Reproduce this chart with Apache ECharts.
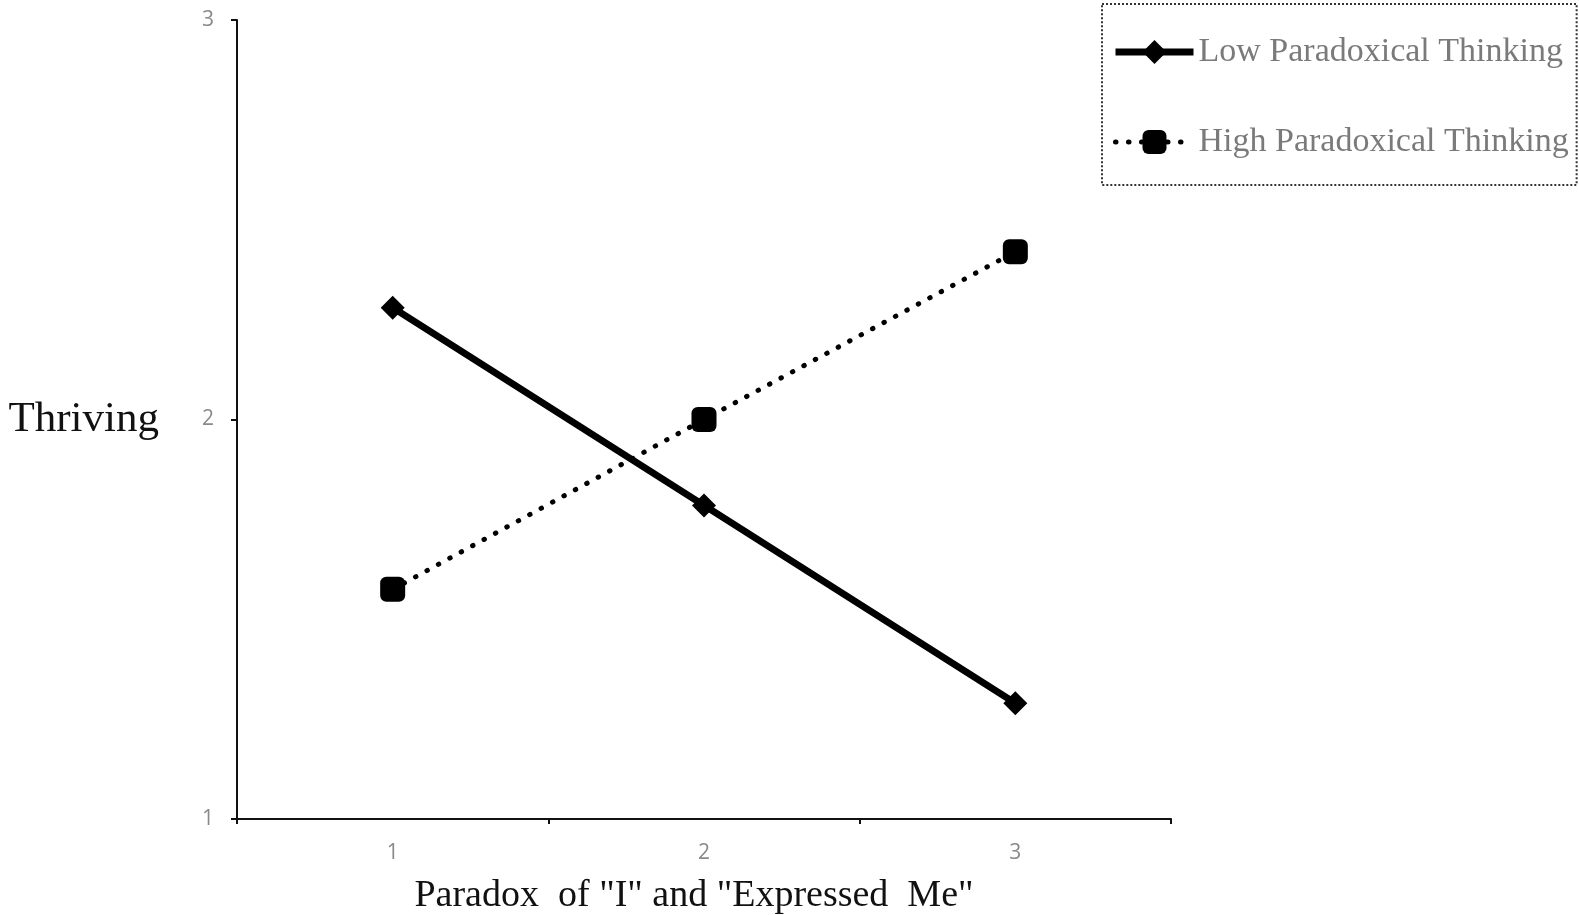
<!DOCTYPE html>
<html>
<head>
<meta charset="utf-8">
<script src="https://cdn.jsdelivr.net/npm/echarts@6/dist/echarts.min.js"></script>
<style>
html,body{margin:0;padding:0;background:#fff;}
#chart{width:1579px;height:915px;}
</style>
</head>
<body>
<div id="chart"></div>
<script>
const categories = ['1', '2', '3'];
const lowParadoxical = [2.28, 1.785, 1.29];
const highParadoxical = [1.575, 2.0, 2.42];
const seriesNames = ['Low Paradoxical Thinking', 'High Paradoxical Thinking'];
const xAxisTitle = 'Paradox  of "I" and "Expressed  Me"';
const yAxisTitle = 'Thriving';

const chart = echarts.init(document.getElementById('chart'), null, {renderer: 'canvas'});
const serif = '"Liberation Serif", "DejaVu Serif", serif';
const dotted = [0.5, 12.5];
chart.setOption({
  animation: false,
  backgroundColor: '#fff',
  grid: {left: 237, right: 408, top: 20, bottom: 96, containLabel: false, outerBoundsMode: 'none'},
  legend: {
    orient: 'vertical',
    left: 1102,
    top: 4,
    padding: [31, 8, 26, 10],
    itemGap: 56,
    itemWidth: 78,
    itemHeight: 30,
    itemTextGap: 2,
    borderColor: '#333',
    borderWidth: 2,
    borderType: 'dotted',
    textStyle: {fontFamily: serif, fontSize: 34, color: '#7a7a7a'},
    data: [
      {name: seriesNames[0], lineStyle: {width: 7, color: '#000'}},
      {name: seriesNames[1], lineStyle: {width: 5, color: '#000', type: dotted, cap: 'round'}}
    ]
  },
  xAxis: {
    type: 'category',
    data: categories,
    boundaryGap: true,
    name: xAxisTitle,
    nameLocation: 'middle',
    nameGap: 58,
    nameTextStyle: {fontFamily: serif, fontSize: 38, color: '#111', padding: [0, 20, 0, 0]},
    axisLine: {lineStyle: {color: '#111', width: 2}},
    axisTick: {show: true, length: 5, inside: false, lineStyle: {color: '#111', width: 2}},
    axisLabel: {margin: 24, fontSize: 21, color: '#8a8a8a', fontFamily: '"Open Sans", sans-serif'},
    splitLine: {show: false}
  },
  yAxis: {
    type: 'value',
    min: 1,
    max: 3,
    interval: 1,
    name: yAxisTitle,
    nameLocation: 'middle',
    nameRotate: 0,
    nameGap: 78,
    nameTextStyle: {fontFamily: serif, fontSize: 43, color: '#111', align: 'right'},
    axisLine: {show: true, lineStyle: {color: '#111', width: 2}},
    axisTick: {show: true, length: 6, lineStyle: {color: '#111', width: 2}},
    axisLabel: {margin: 23, fontSize: 21, color: '#8a8a8a', fontFamily: '"Open Sans", sans-serif'},
    splitLine: {show: false}
  },
  series: [
    {
      name: seriesNames[0],
      type: 'line',
      data: lowParadoxical,
      symbol: 'diamond',
      symbolSize: 24,
      itemStyle: {color: '#000'},
      lineStyle: {color: '#000', width: 7}
    },
    {
      name: seriesNames[1],
      type: 'line',
      data: highParadoxical,
      symbol: 'roundRect',
      symbolSize: 25,
      itemStyle: {color: '#000'},
      lineStyle: {color: '#000', width: 5, type: dotted, cap: 'round'}
    }
  ]
});
</script>
</body>
</html>
